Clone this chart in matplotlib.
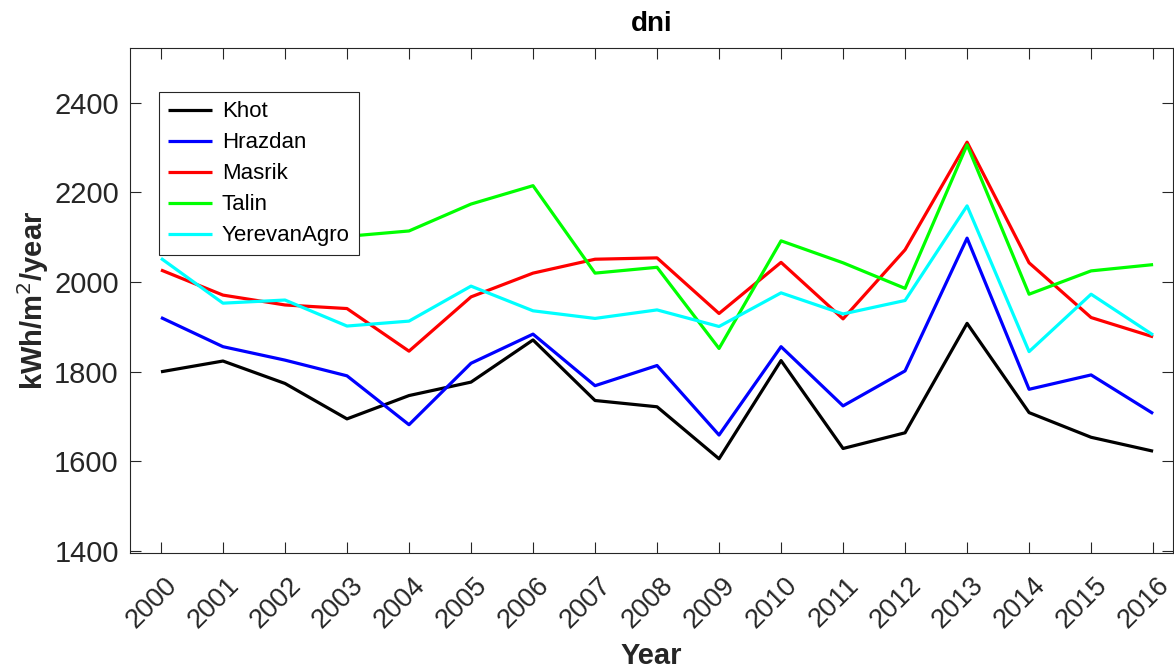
import matplotlib
matplotlib.use('Agg')
import matplotlib.pyplot as plt
import matplotlib.transforms as mtransforms

plt.rcParams['font.family'] = ['Liberation Sans', 'DejaVu Sans']

# 年份与各站点 DNI 年总量 (kWh/m2/year)
years = list(range(2000, 2017))
khot = [1800, 1824, 1774, 1695, 1747, 1777, 1871, 1736, 1722, 1606,
        1825, 1629, 1664, 1908, 1709, 1654, 1623]
hrazdan = [1921, 1856, 1826, 1791, 1682, 1819, 1884, 1769, 1814, 1659,
           1856, 1724, 1802, 2098, 1761, 1793, 1707]
masrik = [2027, 1971, 1949, 1941, 1846, 1967, 2020, 2051, 2054, 1930,
          2044, 1918, 2072, 2312, 2043, 1921, 1878]
talin = [2125, 2140, 2105, 2102, 2114, 2174, 2215, 2020, 2033, 1852,
         2092, 2043, 1986, 2306, 1973, 2025, 2039]
yerevan_agro = [2053, 1953, 1960, 1902, 1913, 1991, 1936, 1919, 1938, 1901,
                1976, 1929, 1959, 2170, 1845, 1973, 1882]

names = ['Khot', 'Hrazdan', 'Masrik', 'Talin', 'YerevanAgro']
series = [khot, hrazdan, masrik, talin, yerevan_agro]
colors = ['#000000', '#0000ff', '#ff0000', '#00ff00', '#00ffff']
yticks = [1400, 1600, 1800, 2000, 2200, 2400]

axc = '#262626'

fig = plt.figure(figsize=(11.74, 6.72), dpi=100)
ax = fig.add_axes([0.1107, 0.1771, 0.8884, 0.7515])

for name, vals, c in zip(names, series, colors):
    ax.plot(years, vals, color=c, linewidth=2.3, label=name,
            solid_capstyle='butt')

ax.set_xlim(1999.5, 2016.32)
ax.set_ylim(1396, 2522)
ax.set_xticks(years)
ax.set_xticklabels([str(y) for y in years])
ax.set_yticks(yticks)

ax.tick_params(axis='both', direction='in', top=True, right=True,
               length=8, width=0.8, colors=axc)
ax.tick_params(axis='y', labelsize=21, pad=8)
ax.tick_params(axis='x', labelsize=19.5, pad=14)
for s in ax.spines.values():
    s.set_color(axc)
    s.set_linewidth(0.8)

# 倾斜的年份标签
offset = mtransforms.ScaledTranslation(-0.09, 0, fig.dpi_scale_trans)
for lab in ax.get_xticklabels():
    lab.set_rotation(45)
    lab.set_ha('center')
    lab.set_transform(lab.get_transform() + offset)

ax.set_title('dni', fontsize=20, fontweight='bold', color='black', pad=12)
ax.set_xlabel('Year', fontsize=21, fontweight='bold', color=axc, labelpad=6)
ax.set_ylabel('kWh/m$^2$/year', fontsize=21, fontweight='bold', color=axc, labelpad=2)

leg = ax.legend(loc='upper left', bbox_to_anchor=(0.0275, 0.912), borderaxespad=0,
                fontsize=16, fancybox=False, framealpha=1, edgecolor=axc,
                handlelength=2.0, handletextpad=0.45, labelspacing=0.45,
                borderpad=0.4)
leg.get_frame().set_linewidth(0.8)

fig.savefig('out.png', dpi=100)
